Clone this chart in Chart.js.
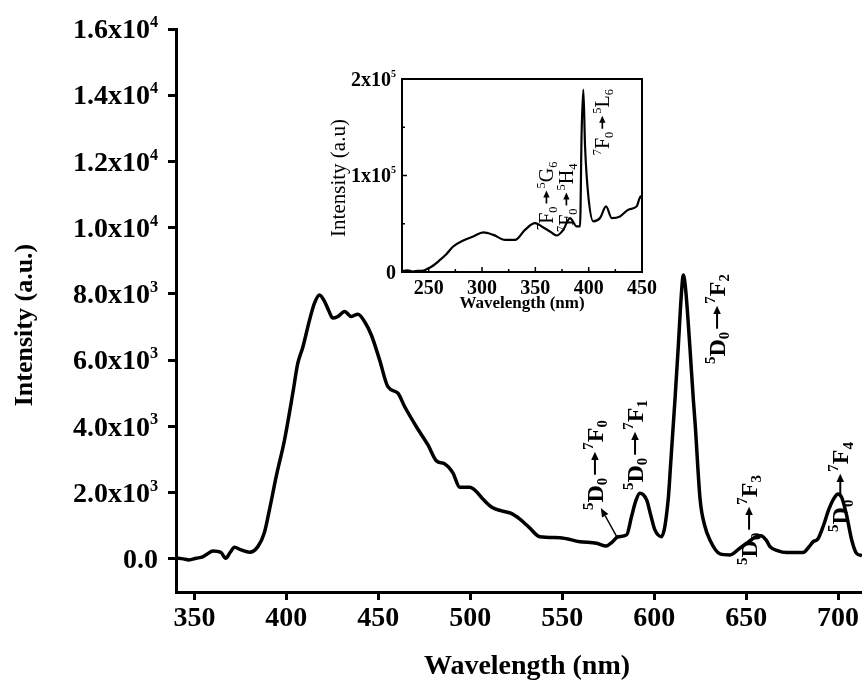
<!DOCTYPE html>
<html>
<head>
<meta charset="utf-8">
<script src="https://cdn.jsdelivr.net/npm/chart.js"></script>
<style>
  html, body { margin: 0; padding: 0; background: #fff; }
  #wrap { position: relative; width: 862px; height: 680px; }
  #mainChart { position: absolute; left: 0; top: 0; }
  #insetChart { position: absolute; left: 320px; top: 60px; }
</style>
</head>
<body>
<div id="wrap">
  <canvas id="mainChart" width="862" height="680"></canvas>
  <canvas id="insetChart" width="340" height="260"></canvas>
</div>
<script>
// emission spectrum (main plot)
const mainWavelength = [340, 344, 347, 351, 354.5, 357, 360, 364.5, 367, 369.5, 371.8, 375.4, 380, 384.5, 388, 390.8, 394.5, 399, 403.5, 406.2,
  409, 412.6, 415.3, 418, 420.8, 423, 425.3, 428, 431.7, 435.3, 438.9, 442.5, 446.2, 450.7, 455.2, 460.7, 464.3, 470.7, 477, 481.6,
  486, 490.6, 494.3, 499.7, 503, 507, 512, 517, 522, 527, 532, 537.8, 548.7, 559.6, 568.7, 574, 577, 580.4, 585, 587.7,
  590, 592.2, 595.9, 598, 600.4, 604, 607.6, 609, 611.3, 613.1, 614.8, 615.8, 617, 619.4, 621.3, 622.2, 625, 627.5, 630.3, 635.8,
  641.2, 646.7, 651, 655, 658, 661, 663, 667, 672, 681, 684, 686.5, 689, 692, 695, 698, 700, 702, 704.5, 707.4, 710, 713];
const mainIntensity = [30, 0, -30, 20, 60, 150, 240, 190, 20, 200, 350, 270, 200, 370, 780, 1480, 2490, 3590, 5000, 5900,
  6400, 7210, 7720, 7970, 7770, 7500, 7270, 7320, 7470, 7320, 7390, 7170, 6760, 6010, 5200, 5000, 4600, 3990, 3440, 2960,
  2870, 2590, 2160, 2160, 2050, 1800, 1550, 1450, 1380, 1200, 950, 670, 640, 520, 470, 390, 500, 670, 725, 1280,
  1750, 1980, 1780, 1350, 875, 670, 1780, 2900, 4800, 6410, 8000, 8570, 8200, 6410, 4800, 4140, 1780, 1000, 570, 150,
  120, 330, 500, 660, 700, 560, 370, 250, 190, 190, 350, 520, 600, 1000, 1500, 1850, 1960, 1850, 1350, 570, 170, 100];

// excitation spectrum (inset)
const insetWavelength = [225, 230, 235, 240, 245, 248, 254, 260.6, 267, 273, 282.5, 291.8, 301.2, 310.6, 321.6, 331, 340.3, 349.7, 356, 363.8,
  370, 376.2, 382.5, 388.8, 391.9, 393.4, 395, 396.6, 399.7, 404.4, 410.6, 416.3, 421.6, 429.4, 437.2, 445, 448.8, 450];
const insetIntensity = [1000, 1800, 500, 1200, 1500, 2800, 6500, 12500, 19000, 26400, 32600, 36800, 41000, 38500, 33300, 33300, 43700, 50700, 47200, 42000,
  37800, 43700, 55900, 47200, 47200, 144500, 188900, 130500, 78500, 52400, 55900, 68000, 55900, 57600, 64600, 68000, 78500, 76000];

const mainXTicks = [350, 400, 450, 500, 550, 600, 650, 700];
const mainYTicks = [0, 2000, 4000, 6000, 8000, 10000, 12000, 14000, 16000];
const mainYMantissa = ['0.0', '2.0x10', '4.0x10', '6.0x10', '8.0x10', '1.0x10', '1.2x10', '1.4x10', '1.6x10'];
const mainYExponent = ['', '3', '3', '3', '3', '4', '4', '4', '4'];

const insetXTicks = [250, 300, 350, 400, 450];
const insetXMinor = [275, 325, 375, 425];
const insetYTicks = [0, 100000, 200000];
const insetYMinor = [50000, 150000];
const insetYMantissa = ['0', '1x10', '2x10'];
const insetYExponent = ['', '5', '5'];

// transition labels: 5D0 -> 7FJ, anchored in data units
const mainLabelLevel = ['0', '1', '2', '3', '4'];
const mainLabelX = [572.1, 593.9, 638.5, 655.9, 705.5];
const mainLabelY = [1479, 2083, 5887, -181, 815];
const mainArrowFrom = [579.7, 664];
const mainArrowTo = [571, 1540];

const insetLabelTerm = [['5', 'G', '6'], ['5', 'H', '4'], ['5', 'L', '6']];
const insetLabelX = [366.6, 385.3, 419];
const insetLabelY = [43500, 41500, 121000];

const FONT = '"Liberation Serif", "Times New Roman", serif';

// text with superscripts / subscripts / drawn arrows
function drawRich(ctx, parts, x, y, size, o) {
  o = o || {};
  const weight = o.weight || 'bold';
  const small = size * (o.small || 0.62);
  ctx.save();
  ctx.translate(x, y);
  if (o.rotate) ctx.rotate(-Math.PI / 2);
  ctx.fillStyle = '#000';
  ctx.strokeStyle = '#000';
  ctx.textAlign = 'left';
  ctx.textBaseline = 'alphabetic';
  const items = parts.filter(p => p[0] !== '').map(p => {
    const kind = p[1] || '';
    const fs = (kind === 'sup' || kind === 'sub') ? small : size;
    let w;
    if (kind === 'arrow') w = p[0];
    else { ctx.font = weight + ' ' + fs + 'px ' + FONT; w = ctx.measureText(p[0]).width; }
    return { t: p[0], kind, fs, w };
  });
  const total = items.reduce((s, it) => s + it.w, 0);
  let cx = o.align === 'right' ? -total : o.align === 'center' ? -total / 2 : 0;
  const base = o.middle ? size * 0.33 : 0;
  items.forEach(it => {
    if (it.kind === 'arrow') {
      const ay = base - size * 0.33;
      const head = Math.max(6, size * 0.35);
      ctx.lineWidth = Math.max(1.2, size / 12);
      ctx.beginPath(); ctx.moveTo(cx + 3, ay); ctx.lineTo(cx + it.w - head, ay); ctx.stroke();
      ctx.beginPath();
      ctx.moveTo(cx + it.w - 2, ay);
      ctx.lineTo(cx + it.w - 2 - head, ay - head * 0.45);
      ctx.lineTo(cx + it.w - 2 - head, ay + head * 0.45);
      ctx.closePath(); ctx.fill();
    } else {
      ctx.font = weight + ' ' + it.fs + 'px ' + FONT;
      const dy = it.kind === 'sup' ? -size * (o.supRise || 0.42) : it.kind === 'sub' ? size * 0.18 : 0;
      ctx.fillText(it.t, cx, base + dy);
    }
    cx += it.w;
  });
  ctx.restore();
}

function drawArrow(ctx, x1, y1, x2, y2, head) {
  const a = Math.atan2(y2 - y1, x2 - x1);
  ctx.save();
  ctx.strokeStyle = '#000'; ctx.fillStyle = '#000'; ctx.lineWidth = 1.5;
  ctx.beginPath(); ctx.moveTo(x1, y1); ctx.lineTo(x2 - head * Math.cos(a), y2 - head * Math.sin(a)); ctx.stroke();
  ctx.beginPath();
  ctx.moveTo(x2, y2);
  ctx.lineTo(x2 - head * Math.cos(a) + head * 0.4 * Math.sin(a), y2 - head * Math.sin(a) - head * 0.4 * Math.cos(a));
  ctx.lineTo(x2 - head * Math.cos(a) - head * 0.4 * Math.sin(a), y2 - head * Math.sin(a) + head * 0.4 * Math.cos(a));
  ctx.closePath(); ctx.fill();
  ctx.restore();
}

const mainTextPlugin = {
  id: 'mainText',
  afterDraw(chart) {
    const ctx = chart.ctx, xs = chart.scales.x, ys = chart.scales.y;
    mainYTicks.forEach((v, i) => {
      drawRich(ctx, [[mainYMantissa[i], ''], [mainYExponent[i], 'sup']], 158, ys.getPixelForValue(v), 28,
        { align: 'right', middle: true, small: 0.58, supRise: 0.4 });
    });
    mainXTicks.forEach(v => {
      drawRich(ctx, [[String(v), '']], xs.getPixelForValue(v), 626, 28, { align: 'center' });
    });
    drawRich(ctx, [['Intensity (a.u.)', '']], 32, 325, 26, { rotate: true, align: 'center' });
    drawRich(ctx, [['Wavelength (nm)', '']], 527, 674, 28, { align: 'center' });

    mainLabelLevel.forEach((lvl, i) => {
      drawRich(ctx, [['5', 'sup'], ['D', ''], ['0', 'sub'], [28, 'arrow'], ['7', 'sup'], ['F', ''], [lvl, 'sub']],
        xs.getPixelForValue(mainLabelX[i]), ys.getPixelForValue(mainLabelY[i]), 24, { rotate: true });
    });
    drawArrow(ctx, xs.getPixelForValue(mainArrowFrom[0]), ys.getPixelForValue(mainArrowFrom[1]),
      xs.getPixelForValue(mainArrowTo[0]), ys.getPixelForValue(mainArrowTo[1]), 9);
  }
};

const insetTextPlugin = {
  id: 'insetText',
  afterDraw(chart) {
    const ctx = chart.ctx, xs = chart.scales.x, ys = chart.scales.y, a = chart.chartArea;
    ctx.save();
    ctx.strokeStyle = '#000'; ctx.lineWidth = 2;
    ctx.strokeRect(a.left, a.top, a.right - a.left, a.bottom - a.top);
    ctx.lineWidth = 1.5;
    ctx.beginPath();
    insetXTicks.forEach(v => { const p = xs.getPixelForValue(v); ctx.moveTo(p, a.bottom); ctx.lineTo(p, a.bottom - 5); });
    insetXMinor.forEach(v => { const p = xs.getPixelForValue(v); ctx.moveTo(p, a.bottom); ctx.lineTo(p, a.bottom - 3); });
    insetYTicks.forEach(v => { const p = ys.getPixelForValue(v); ctx.moveTo(a.left, p); ctx.lineTo(a.left + 5, p); });
    insetYMinor.forEach(v => { const p = ys.getPixelForValue(v); ctx.moveTo(a.left, p); ctx.lineTo(a.left + 3, p); });
    ctx.stroke();
    ctx.restore();

    insetXTicks.forEach(v => {
      drawRich(ctx, [[String(v), '']], xs.getPixelForValue(v), 234, 20, { align: 'center' });
    });
    insetYTicks.forEach((v, i) => {
      drawRich(ctx, [[insetYMantissa[i], ''], [insetYExponent[i], 'sup']], 76, ys.getPixelForValue(v), 20,
        { align: 'right', middle: true, small: 0.5, supRise: 0.45 });
    });
    drawRich(ctx, [['Intensity (a.u)', '']], 25, 118, 21, { rotate: true, align: 'center', weight: 'normal' });
    drawRich(ctx, [['Wavelength (nm)', '']], 202, 248, 17, { align: 'center' });

    insetLabelTerm.forEach((t, i) => {
      drawRich(ctx, [['7', 'sup'], ['F', ''], ['0', 'sub'], [18, 'arrow'], [t[0], 'sup'], [t[1], ''], [t[2], 'sub']],
        xs.getPixelForValue(insetLabelX[i]), ys.getPixelForValue(insetLabelY[i]), 20, { rotate: true, weight: 'normal' });
    });
  }
};

const axisLine = { display: true, color: '#000', width: 3 };
const tickMarks = { display: true, drawOnChartArea: false, drawTicks: true, tickLength: 8, lineWidth: 3, color: '#000' };

new Chart(document.getElementById('mainChart'), {
  type: 'line',
  data: {
    datasets: [{
      data: mainWavelength.map((w, i) => ({ x: w, y: mainIntensity[i] })),
      borderColor: '#000',
      borderWidth: 3.5,
      pointRadius: 0,
      cubicInterpolationMode: 'monotone',
      fill: false
    }]
  },
  options: {
    responsive: false,
    animation: false,
    devicePixelRatio: 1,
    layout: { autoPadding: false, padding: { top: 29, right: 0, bottom: 0, left: 0 } },
    plugins: { legend: { display: false }, tooltip: { enabled: false } },
    scales: {
      x: {
        type: 'linear', min: 340, max: 713,
        afterBuildTicks: s => { s.ticks = mainXTicks.map(v => ({ value: v })); },
        afterFit: s => { s.height = 88; },
        ticks: { display: false },
        grid: tickMarks,
        border: axisLine
      },
      y: {
        type: 'linear', min: -1000, max: 16000,
        afterBuildTicks: s => { s.ticks = mainYTicks.map(v => ({ value: v })); },
        afterFit: s => { s.width = 176; },
        ticks: { display: false },
        grid: tickMarks,
        border: axisLine
      }
    }
  },
  plugins: [mainTextPlugin]
});

new Chart(document.getElementById('insetChart'), {
  type: 'line',
  data: {
    datasets: [{
      data: insetWavelength.map((w, i) => ({ x: w, y: insetIntensity[i] })),
      borderColor: '#000',
      borderWidth: 2.2,
      pointRadius: 0,
      cubicInterpolationMode: 'monotone',
      fill: false
    }]
  },
  options: {
    responsive: false,
    animation: false,
    devicePixelRatio: 1,
    layout: { autoPadding: false, padding: { top: 19, right: 18, bottom: 0, left: 0 } },
    plugins: { legend: { display: false }, tooltip: { enabled: false } },
    scales: {
      x: {
        type: 'linear', min: 225, max: 450,
        afterBuildTicks: s => { s.ticks = insetXTicks.map(v => ({ value: v })); },
        afterFit: s => { s.height = 48; },
        ticks: { display: false },
        grid: { display: false },
        border: { display: true, color: '#000', width: 2 }
      },
      y: {
        type: 'linear', min: 0, max: 200000,
        afterBuildTicks: s => { s.ticks = insetYTicks.map(v => ({ value: v })); },
        afterFit: s => { s.width = 82; },
        ticks: { display: false },
        grid: { display: false },
        border: { display: true, color: '#000', width: 2 }
      }
    }
  },
  plugins: [insetTextPlugin]
});
</script>
</body>
</html>
